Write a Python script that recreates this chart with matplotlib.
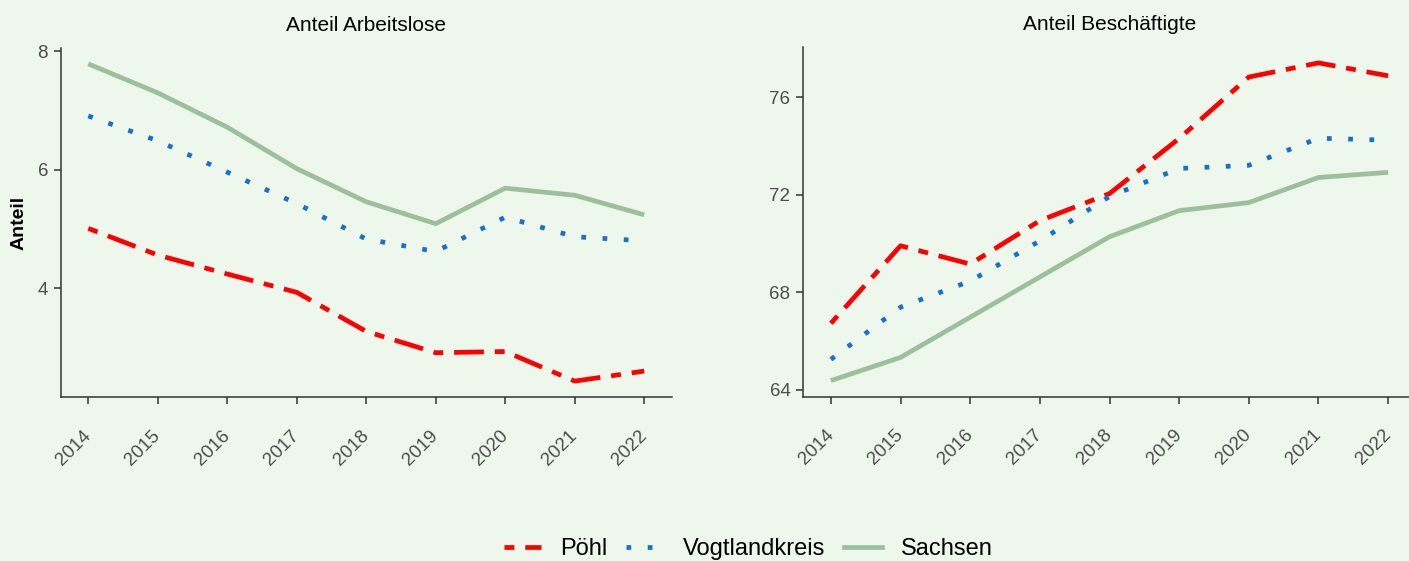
import matplotlib.pyplot as plt
from matplotlib.lines import Line2D

plt.rcParams['font.family'] = ['Liberation Sans', 'DejaVu Sans']

years = [2014, 2015, 2016, 2017, 2018, 2019, 2020, 2021, 2022]
series_names = ['Pöhl', 'Vogtlandkreis', 'Sachsen']

# Anteil Arbeitslose
alo_poehl = [5.01, 4.56, 4.24, 3.93, 3.27, 2.91, 2.93, 2.43, 2.60]
alo_vogtland = [6.91, 6.49, 5.96, 5.43, 4.83, 4.62, 5.20, 4.87, 4.80]
alo_sachsen = [7.79, 7.30, 6.72, 6.02, 5.46, 5.09, 5.69, 5.57, 5.24]

# Anteil Beschaeftigte
bes_poehl = [66.72, 69.90, 69.15, 70.93, 72.04, 74.30, 76.82, 77.40, 76.87]
bes_vogtland = [65.24, 67.38, 68.45, 70.10, 71.92, 73.07, 73.20, 74.31, 74.23]
bes_sachsen = [64.37, 65.32, 66.97, 68.62, 70.27, 71.34, 71.67, 72.70, 72.91]

titles = ['Anteil Arbeitslose', 'Anteil Beschäftigte']
yticks_left = [4, 6, 8]
yticks_right = [64, 68, 72, 76]

bg = '#EDF7EC'
colors = ['#FF0000', '#1A6FC8', '#9CC09B']
lw = 3.4
styles = [(0, (2.1, 2.3, 6.3, 2.3)), (0, (1, 3.5)), '-']

fig = plt.figure(figsize=(14.09, 5.61), dpi=100, facecolor=bg)
ax1 = fig.add_axes([60.5 / 1409, 1 - 397 / 561, (672 - 60.5) / 1409, 349 / 561])
ax2 = fig.add_axes([803 / 1409, 1 - 396.5 / 561, (1416 - 803) / 1409, 349.5 / 561])


def expand(vals):
    lo, hi = min(vals), max(vals)
    pad = (hi - lo) * 0.05
    return lo - pad, hi + pad


def draw_panel(ax, data, title, yticks):
    ax.set_facecolor(bg)
    for vals, c, ls in zip(data, colors, styles):
        ax.plot(years, vals, color=c, lw=lw, linestyle=ls,
                dash_capstyle='butt', solid_capstyle='butt')
    allv = [v for s in data for v in s]
    ax.set_ylim(*expand(allv))
    ax.set_xlim(*expand(years))
    ax.set_yticks(yticks)
    ax.set_xticks(years)
    ax.set_xticklabels([str(y) for y in years], rotation=45, ha='right',
                       va='center', rotation_mode='anchor')
    for s in ['top', 'right']:
        ax.spines[s].set_visible(False)
    for s in ['left', 'bottom']:
        ax.spines[s].set_color('#333333')
        ax.spines[s].set_linewidth(1.1)
    ax.tick_params(axis='both', length=5, width=1.1, color='#333333',
                   labelcolor='#4D4D4D', labelsize=13.5)
    ax.tick_params(axis='x', pad=21)
    ax.tick_params(axis='y', pad=4)
    ax.set_title(title, fontsize=15, pad=12, color='black')


draw_panel(ax1, [alo_poehl, alo_vogtland, alo_sachsen], titles[0], yticks_left)
draw_panel(ax2, [bes_poehl, bes_vogtland, bes_sachsen], titles[1], yticks_right)
ax1.set_ylabel('Anteil', fontsize=14, fontweight='bold', labelpad=7)

handles = [Line2D([0], [0], color=c, lw=lw, linestyle=ls) for c, ls in zip(colors, styles)]
fig.legend(handles, series_names, loc='center', bbox_to_anchor=(0.531, 0.0214),
           ncol=3, frameon=False, fontsize=17, handlelength=1.6,
           handletextpad=0.8, columnspacing=0.8)

fig.savefig('out.png', dpi=100, facecolor=bg)
